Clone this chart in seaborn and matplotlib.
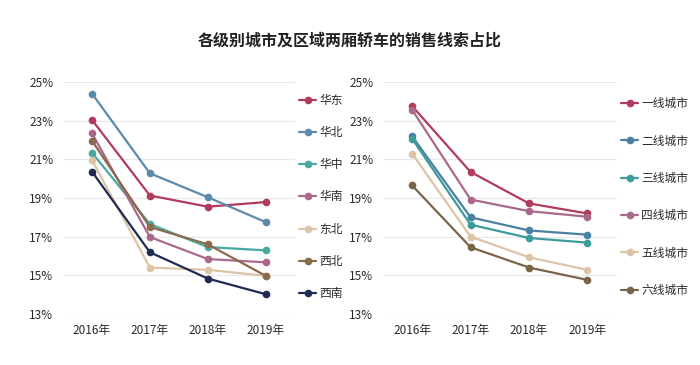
import numpy as np
import pandas as pd
import matplotlib.pyplot as plt
import seaborn as sns

years = ['2016年', '2017年', '2018年', '2019年']

# 区域
regions = ['华东', '华北', '华中', '华南', '东北', '西北', '西南']
huadong = [23.05, 19.13, 18.55, 18.79]
huabei = [24.41, 20.28, 19.04, 17.75]
huazhong = [21.35, 17.65, 16.46, 16.29]
huanan = [22.35, 16.98, 15.84, 15.67]
dongbei = [20.97, 15.40, 15.28, 14.97]
xibei = [21.97, 17.50, 16.60, 14.97]
xinan = [20.37, 16.19, 14.83, 14.02]
region_colors = ['#b23a5c', '#5b8aab', '#47a9a2', '#a9698b', '#dcc5a6', '#8a6b4b', '#1f2b52']

# 城市级别
tiers = ['一线城市', '二线城市', '三线城市', '四线城市', '五线城市', '六线城市']
tier1 = [23.76, 20.35, 18.72, 18.20]
tier2 = [22.19, 18.00, 17.32, 17.10]
tier3 = [22.07, 17.62, 16.93, 16.69]
tier4 = [23.57, 18.92, 18.32, 18.03]
tier5 = [21.30, 17.00, 15.93, 15.28]
tier6 = [19.65, 16.45, 15.40, 14.76]
tier_colors = ['#b23a5c', '#4a80a2', '#3b9c99', '#a9698b', '#dcc5a6', '#7b6549']


def to_long(names, series):
    rows = []
    for name, vals in zip(names, series):
        for y, v in zip(years, vals):
            rows.append({'year': y, 'name': name, 'share': v})
    return pd.DataFrame(rows)


df_region = to_long(regions, [huadong, huabei, huazhong, huanan, dongbei, xibei, xinan])
df_tier = to_long(tiers, [tier1, tier2, tier3, tier4, tier5, tier6])

sns.set_style('white')
plt.rcParams['font.family'] = ['Noto Sans CJK SC', 'DejaVu Sans']

fig = plt.figure(figsize=(7, 3.65), dpi=100)
ax1 = fig.add_axes([0.09, 0.14, 0.331, 0.635])
ax2 = fig.add_axes([0.547, 0.14, 0.334, 0.635])

fig.text(0.5, 0.89, '各级别城市及区域两厢轿车的销售线索占比', ha='center', va='center',
         fontsize=11.5, color='#222222', fontweight='bold')


def draw(ax, df, names, colors, spacing, anchor_y):
    sns.lineplot(data=df, x='year', y='share', hue='name', hue_order=names,
                 palette=colors, marker='o', markersize=5.5, markeredgewidth=0,
                 linewidth=1.6, ax=ax, sort=False)
    ax.set_ylim(13, 25)
    ax.set_xlim(-0.5, 3.5)
    ax.set_yticks(np.arange(13, 26, 2))
    ax.set_yticklabels([f'{v}%' for v in range(13, 26, 2)])
    ax.yaxis.grid(True, color='#e8e8e8', linewidth=0.9)
    ax.set_axisbelow(True)
    for s in ax.spines.values():
        s.set_visible(False)
    ax.set_xlabel('')
    ax.set_ylabel('')
    ax.tick_params(axis='both', length=0, labelsize=8.5, colors='#2a2a2a', pad=7)
    for line in ax.lines:
        line.set_clip_on(False)
    ax.legend(loc='upper left', bbox_to_anchor=(1.02, anchor_y), frameon=False,
              fontsize=8.5, labelspacing=spacing, handlelength=1.4,
              handletextpad=0.3, borderaxespad=0, borderpad=0,
              labelcolor='#2a2a2a')


draw(ax1, df_region, regions, region_colors, 1.63, 0.95)
draw(ax2, df_tier, tiers, tier_colors, 2.06, 0.935)

fig.savefig('out.png', dpi=100, facecolor='white')
